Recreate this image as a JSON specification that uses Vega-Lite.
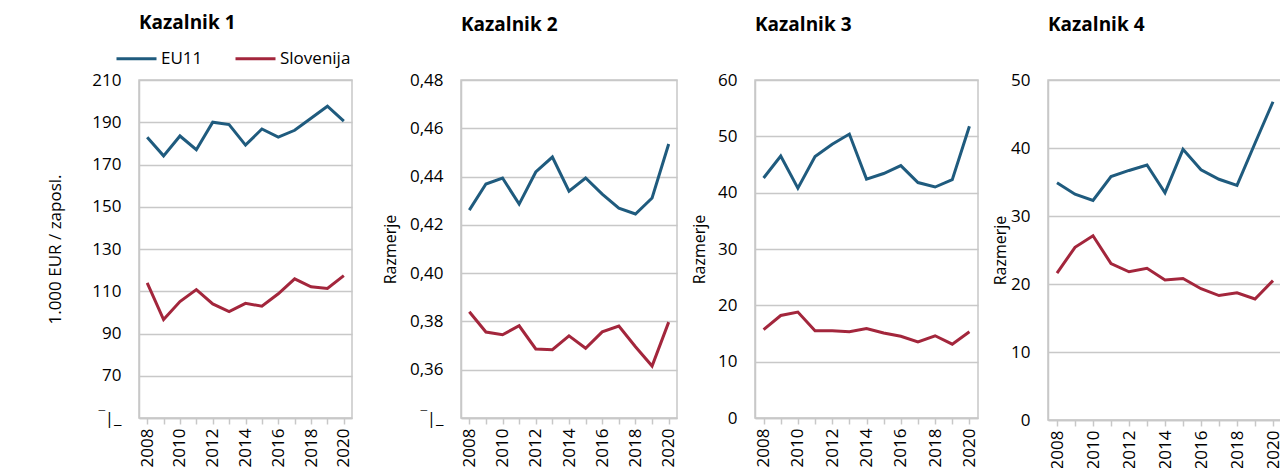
{
  "$schema": "https://vega.github.io/schema/vega-lite/v6.json",
  "background": "white",
  "padding": {"left": 46, "top": 13, "right": 0, "bottom": 0},
  "config": {
    "font": "Open Sans",
    "view": {"stroke": "#c8c8c8", "strokeWidth": 1.5},
    "axis": {"labelFont": "Open Sans", "labelFontSize": 17, "labelColor": "#000", "titleFont": "Open Sans", "titleFontSize": 16, "titleFontWeight": "normal", "titleColor": "#000", "domainColor": "#c8c8c8", "domainWidth": 1.5, "gridColor": "#c8c8c8", "gridWidth": 1.5, "tickColor": "#c8c8c8", "tickWidth": 1.5},
    "title": {"fontSize": 19, "fontWeight": "bold", "anchor": "start", "frame": "group", "color": "#000", "font": "Open Sans"},
    "legend": {"labelFont": "Open Sans", "labelFontSize": 17, "labelColor": "#000"}
  },
  "datasets": {
    "d": [
      {"panel": 1, "series": "EU11", "year": 2008, "value": 182.9},
      {"panel": 1, "series": "EU11", "year": 2009, "value": 174.1},
      {"panel": 1, "series": "EU11", "year": 2010, "value": 183.5},
      {"panel": 1, "series": "EU11", "year": 2011, "value": 177.0},
      {"panel": 1, "series": "EU11", "year": 2012, "value": 190.0},
      {"panel": 1, "series": "EU11", "year": 2013, "value": 188.9},
      {"panel": 1, "series": "EU11", "year": 2014, "value": 179.2},
      {"panel": 1, "series": "EU11", "year": 2015, "value": 186.8},
      {"panel": 1, "series": "EU11", "year": 2016, "value": 183.0},
      {"panel": 1, "series": "EU11", "year": 2017, "value": 186.2},
      {"panel": 1, "series": "EU11", "year": 2018, "value": 191.9},
      {"panel": 1, "series": "EU11", "year": 2019, "value": 197.6},
      {"panel": 1, "series": "EU11", "year": 2020, "value": 190.5},
      {"panel": 1, "series": "Slovenija", "year": 2008, "value": 114.0},
      {"panel": 1, "series": "Slovenija", "year": 2009, "value": 96.6},
      {"panel": 1, "series": "Slovenija", "year": 2010, "value": 105.1},
      {"panel": 1, "series": "Slovenija", "year": 2011, "value": 110.8},
      {"panel": 1, "series": "Slovenija", "year": 2012, "value": 104.0},
      {"panel": 1, "series": "Slovenija", "year": 2013, "value": 100.4},
      {"panel": 1, "series": "Slovenija", "year": 2014, "value": 104.3},
      {"panel": 1, "series": "Slovenija", "year": 2015, "value": 102.9},
      {"panel": 1, "series": "Slovenija", "year": 2016, "value": 108.8},
      {"panel": 1, "series": "Slovenija", "year": 2017, "value": 115.9},
      {"panel": 1, "series": "Slovenija", "year": 2018, "value": 112.1},
      {"panel": 1, "series": "Slovenija", "year": 2019, "value": 111.3},
      {"panel": 1, "series": "Slovenija", "year": 2020, "value": 117.4},
      {"panel": 2, "series": "EU11", "year": 2008, "value": 0.4261},
      {"panel": 2, "series": "EU11", "year": 2009, "value": 0.4369},
      {"panel": 2, "series": "EU11", "year": 2010, "value": 0.4394},
      {"panel": 2, "series": "EU11", "year": 2011, "value": 0.4286},
      {"panel": 2, "series": "EU11", "year": 2012, "value": 0.4419},
      {"panel": 2, "series": "EU11", "year": 2013, "value": 0.4481},
      {"panel": 2, "series": "EU11", "year": 2014, "value": 0.434},
      {"panel": 2, "series": "EU11", "year": 2015, "value": 0.4394},
      {"panel": 2, "series": "EU11", "year": 2016, "value": 0.4327},
      {"panel": 2, "series": "EU11", "year": 2017, "value": 0.4269},
      {"panel": 2, "series": "EU11", "year": 2018, "value": 0.4245},
      {"panel": 2, "series": "EU11", "year": 2019, "value": 0.4311},
      {"panel": 2, "series": "EU11", "year": 2020, "value": 0.4535},
      {"panel": 2, "series": "Slovenija", "year": 2008, "value": 0.384},
      {"panel": 2, "series": "Slovenija", "year": 2009, "value": 0.3756},
      {"panel": 2, "series": "Slovenija", "year": 2010, "value": 0.3745},
      {"panel": 2, "series": "Slovenija", "year": 2011, "value": 0.3782},
      {"panel": 2, "series": "Slovenija", "year": 2012, "value": 0.3686},
      {"panel": 2, "series": "Slovenija", "year": 2013, "value": 0.3683},
      {"panel": 2, "series": "Slovenija", "year": 2014, "value": 0.374},
      {"panel": 2, "series": "Slovenija", "year": 2015, "value": 0.3689},
      {"panel": 2, "series": "Slovenija", "year": 2016, "value": 0.3757},
      {"panel": 2, "series": "Slovenija", "year": 2017, "value": 0.3781},
      {"panel": 2, "series": "Slovenija", "year": 2018, "value": 0.3695},
      {"panel": 2, "series": "Slovenija", "year": 2019, "value": 0.3615},
      {"panel": 2, "series": "Slovenija", "year": 2020, "value": 0.3797},
      {"panel": 3, "series": "EU11", "year": 2008, "value": 42.6},
      {"panel": 3, "series": "EU11", "year": 2009, "value": 46.5},
      {"panel": 3, "series": "EU11", "year": 2010, "value": 40.8},
      {"panel": 3, "series": "EU11", "year": 2011, "value": 46.4},
      {"panel": 3, "series": "EU11", "year": 2012, "value": 48.6},
      {"panel": 3, "series": "EU11", "year": 2013, "value": 50.4},
      {"panel": 3, "series": "EU11", "year": 2014, "value": 42.4},
      {"panel": 3, "series": "EU11", "year": 2015, "value": 43.4},
      {"panel": 3, "series": "EU11", "year": 2016, "value": 44.8},
      {"panel": 3, "series": "EU11", "year": 2017, "value": 41.8},
      {"panel": 3, "series": "EU11", "year": 2018, "value": 41.0},
      {"panel": 3, "series": "EU11", "year": 2019, "value": 42.3},
      {"panel": 3, "series": "EU11", "year": 2020, "value": 51.8},
      {"panel": 3, "series": "Slovenija", "year": 2008, "value": 15.7},
      {"panel": 3, "series": "Slovenija", "year": 2009, "value": 18.2},
      {"panel": 3, "series": "Slovenija", "year": 2010, "value": 18.8},
      {"panel": 3, "series": "Slovenija", "year": 2011, "value": 15.5},
      {"panel": 3, "series": "Slovenija", "year": 2012, "value": 15.5},
      {"panel": 3, "series": "Slovenija", "year": 2013, "value": 15.3},
      {"panel": 3, "series": "Slovenija", "year": 2014, "value": 15.9},
      {"panel": 3, "series": "Slovenija", "year": 2015, "value": 15.1},
      {"panel": 3, "series": "Slovenija", "year": 2016, "value": 14.5},
      {"panel": 3, "series": "Slovenija", "year": 2017, "value": 13.5},
      {"panel": 3, "series": "Slovenija", "year": 2018, "value": 14.6},
      {"panel": 3, "series": "Slovenija", "year": 2019, "value": 13.1},
      {"panel": 3, "series": "Slovenija", "year": 2020, "value": 15.3},
      {"panel": 4, "series": "EU11", "year": 2008, "value": 34.9},
      {"panel": 4, "series": "EU11", "year": 2009, "value": 33.2},
      {"panel": 4, "series": "EU11", "year": 2010, "value": 32.3},
      {"panel": 4, "series": "EU11", "year": 2011, "value": 35.8},
      {"panel": 4, "series": "EU11", "year": 2012, "value": 36.7},
      {"panel": 4, "series": "EU11", "year": 2013, "value": 37.5},
      {"panel": 4, "series": "EU11", "year": 2014, "value": 33.4},
      {"panel": 4, "series": "EU11", "year": 2015, "value": 39.8},
      {"panel": 4, "series": "EU11", "year": 2016, "value": 36.8},
      {"panel": 4, "series": "EU11", "year": 2017, "value": 35.4},
      {"panel": 4, "series": "EU11", "year": 2018, "value": 34.5},
      {"panel": 4, "series": "EU11", "year": 2019, "value": 40.7},
      {"panel": 4, "series": "EU11", "year": 2020, "value": 46.8},
      {"panel": 4, "series": "Slovenija", "year": 2008, "value": 21.6},
      {"panel": 4, "series": "Slovenija", "year": 2009, "value": 25.4},
      {"panel": 4, "series": "Slovenija", "year": 2010, "value": 27.1},
      {"panel": 4, "series": "Slovenija", "year": 2011, "value": 23.0},
      {"panel": 4, "series": "Slovenija", "year": 2012, "value": 21.8},
      {"panel": 4, "series": "Slovenija", "year": 2013, "value": 22.3},
      {"panel": 4, "series": "Slovenija", "year": 2014, "value": 20.6},
      {"panel": 4, "series": "Slovenija", "year": 2015, "value": 20.8},
      {"panel": 4, "series": "Slovenija", "year": 2016, "value": 19.3},
      {"panel": 4, "series": "Slovenija", "year": 2017, "value": 18.3},
      {"panel": 4, "series": "Slovenija", "year": 2018, "value": 18.7},
      {"panel": 4, "series": "Slovenija", "year": 2019, "value": 17.8},
      {"panel": 4, "series": "Slovenija", "year": 2020, "value": 20.5}
    ]
  },
  "spacing": 12,
  "resolve": {"scale": {"color": "independent", "y": "independent"}, "legend": {"color": "independent"}},
  "hconcat": [
    {
      "title": {"text": "Kazalnik 1", "offset": -13},
      "width": 213, "height": 338,
      "data": {"name": "d"},
      "transform": [{"filter": "datum.panel == 1"}],
      "mark": {"type": "line", "strokeWidth": 3},
      "encoding": {
        "x": {"field": "year", "type": "quantitative", "scale": {"domain": [2007.5, 2020.5], "nice": false, "zero": false},
          "axis": {"values": [2008, 2009, 2010, 2011, 2012, 2013, 2014, 2015, 2016, 2017, 2018, 2019, 2020], "format": "d", "labelExpr": "datum.value % 2 == 0 ? datum.label : ''", "labelAngle": -90, "grid": false, "tickSize": 6, "labelPadding": 4, "title": null, "labelFlush": false, "labelOverlap": false}},
        "y": {"field": "value", "type": "quantitative", "scale": {"domain": [50, 210], "nice": false, "zero": false},
          "axis": {"values": [50, 70, 90, 110, 130, 150, 170, 190, 210], "ticks": false, "labelPadding": 18, "title": "1.000 EUR / zaposl.", "titleFontSize": 17, "titlePadding": 27, "labelExpr": "datum.value == 50 ? '‾|_' : datum.label"}},
        "color": {"field": "series", "type": "nominal", "scale": {"domain": ["EU11", "Slovenija"], "range": ["#1f5b7e", "#a3263c"]},
          "legend": {"orient": "none", "legendX": -41, "legendY": -60, "padding": 17, "direction": "horizontal", "title": null, "symbolType": "stroke", "symbolSize": 1600, "symbolStrokeWidth": 3, "labelOffset": 3, "columnPadding": 26}}
      }
    },
    {
      "title": {"text": "Kazalnik 2", "offset": 36},
      "width": 216, "height": 338,
      "data": {"name": "d"},
      "transform": [{"filter": "datum.panel == 2"}],
      "mark": {"type": "line", "strokeWidth": 3},
      "encoding": {
        "x": {"field": "year", "type": "quantitative", "scale": {"domain": [2007.5, 2020.5], "nice": false, "zero": false},
          "axis": {"values": [2008, 2009, 2010, 2011, 2012, 2013, 2014, 2015, 2016, 2017, 2018, 2019, 2020], "format": "d", "labelExpr": "datum.value % 2 == 0 ? datum.label : ''", "labelAngle": -90, "grid": false, "tickSize": 6, "labelPadding": 4, "title": null, "labelFlush": false, "labelOverlap": false}},
        "y": {"field": "value", "type": "quantitative", "scale": {"domain": [0.34, 0.48], "nice": false, "zero": false},
          "axis": {"values": [0.34, 0.36, 0.38, 0.40, 0.42, 0.44, 0.46, 0.48], "ticks": false, "labelPadding": 18, "title": "Razmerje", "titlePadding": 11, "labelExpr": "datum.value < 0.345 ? '‾|_' : replace(format(datum.value, '.2f'), '.', ',')"}},
        "color": {"field": "series", "type": "nominal", "scale": {"domain": ["EU11", "Slovenija"], "range": ["#1f5b7e", "#a3263c"]}, "legend": null}
      }
    },
    {
      "title": {"text": "Kazalnik 3", "offset": 36},
      "width": 223, "height": 338,
      "data": {"name": "d"},
      "transform": [{"filter": "datum.panel == 3"}],
      "mark": {"type": "line", "strokeWidth": 3},
      "encoding": {
        "x": {"field": "year", "type": "quantitative", "scale": {"domain": [2007.5, 2020.5], "nice": false, "zero": false},
          "axis": {"values": [2008, 2009, 2010, 2011, 2012, 2013, 2014, 2015, 2016, 2017, 2018, 2019, 2020], "format": "d", "labelExpr": "datum.value % 2 == 0 ? datum.label : ''", "labelAngle": -90, "grid": false, "tickSize": 6, "labelPadding": 4, "title": null, "labelFlush": false, "labelOverlap": false}},
        "y": {"field": "value", "type": "quantitative", "scale": {"domain": [0, 60], "nice": false},
          "axis": {"values": [0, 10, 20, 30, 40, 50, 60], "ticks": false, "labelPadding": 18, "title": "Razmerje", "titlePadding": 10}},
        "color": {"field": "series", "type": "nominal", "scale": {"domain": ["EU11", "Slovenija"], "range": ["#1f5b7e", "#a3263c"]}, "legend": null}
      }
    },
    {
      "title": {"text": "Kazalnik 4", "offset": 36},
      "width": 234, "height": 340,
      "data": {"name": "d"},
      "transform": [{"filter": "datum.panel == 4"}],
      "mark": {"type": "line", "strokeWidth": 3},
      "encoding": {
        "x": {"field": "year", "type": "quantitative", "scale": {"domain": [2007.5, 2020.5], "nice": false, "zero": false},
          "axis": {"values": [2008, 2009, 2010, 2011, 2012, 2013, 2014, 2015, 2016, 2017, 2018, 2019, 2020], "format": "d", "labelExpr": "datum.value % 2 == 0 ? datum.label : ''", "labelAngle": -90, "grid": false, "tickSize": 6, "labelPadding": 4, "title": null, "labelFlush": false, "labelOverlap": false}},
        "y": {"field": "value", "type": "quantitative", "scale": {"domain": [0, 50], "nice": false},
          "axis": {"values": [0, 10, 20, 30, 40, 50], "ticks": false, "labelPadding": 18, "title": "Razmerje", "titlePadding": 2}},
        "color": {"field": "series", "type": "nominal", "scale": {"domain": ["EU11", "Slovenija"], "range": ["#1f5b7e", "#a3263c"]}, "legend": null}
      }
    }
  ]
}
